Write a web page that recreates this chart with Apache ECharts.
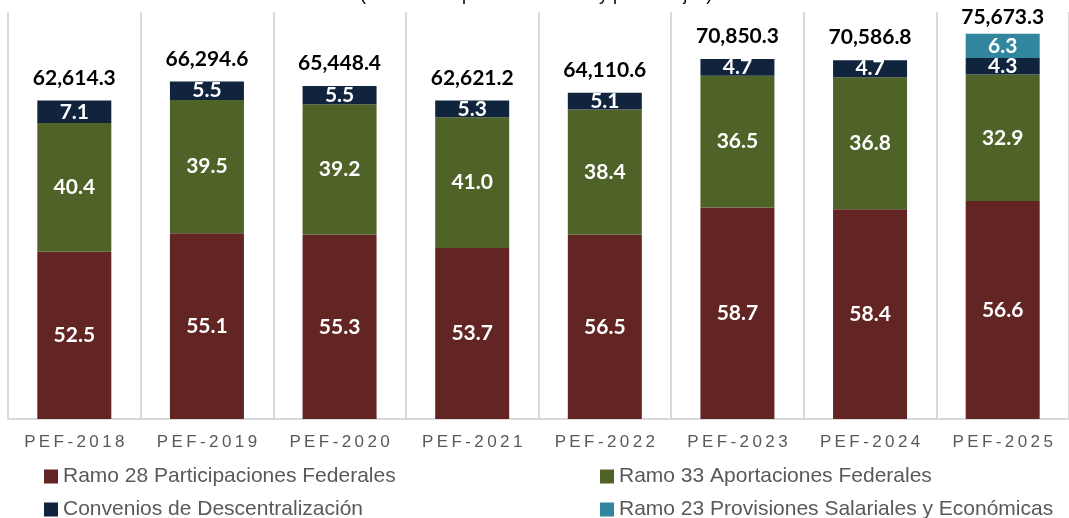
<!DOCTYPE html>
<html>
<head>
<meta charset="utf-8">
<script src="https://cdn.jsdelivr.net/npm/echarts@6/dist/echarts.min.js"></script>
<style>
  html, body { margin: 0; padding: 0; background: #fff; }
  #main { width: 1069px; height: 518px; }
</style>
</head>
<body>
<div id="main"></div>
<script>
// datos (porcentajes por ramo y totales en millones de pesos)
var categories = ['PEF-2018', 'PEF-2019', 'PEF-2020', 'PEF-2021', 'PEF-2022', 'PEF-2023', 'PEF-2024', 'PEF-2025']
var totals = [62614.3, 66294.6, 65448.4, 62621.2, 64110.6, 70850.3, 70586.8, 75673.3]
var ramo28 = [52.5, 55.1, 55.3, 53.7, 56.5, 58.7, 58.4, 56.6]
var ramo33 = [40.4, 39.5, 39.2, 41.0, 38.4, 36.5, 36.8, 32.9]
var convenios = [7.1, 5.5, 5.5, 5.3, 5.1, 4.7, 4.7, 4.3]
var ramo23 = [null, null, null, null, null, null, null, 6.3]

var names = ['Ramo 28 Participaciones Federales', 'Ramo 33 Aportaciones Federales',
  'Convenios de Descentralización', 'Ramo 23 Provisiones Salariales y Económicas']
var colors = ['#632523', '#4F6228', '#10243E', '#31859C']

var chart = echarts.init(document.getElementById('main'))

// altura de cada segmento = porcentaje * total
function amounts(pct) {
  return pct.map(function (p, i) {
    return p == null ? null : p * totals[i] / 100
  })
}

function segment(name, pct, color) {
  return {
    name: name,
    type: 'bar',
    stack: 'total',
    barWidth: 74,
    itemStyle: { color: color },
    label: {
      show: true,
      position: 'inside',
      color: '#fff',
      fontFamily: 'Lato',
      fontWeight: 'bold',
      fontSize: 21,
      formatter: function (p) {
        return pct[p.dataIndex].toFixed(1)
      }
    },
    data: amounts(pct)
  }
}

var legendText = { color: '#595959', fontSize: 21, fontFamily: 'Liberation Sans' }

function legendCol(left, data) {
  return {
    orient: 'vertical',
    left: left,
    top: 461,
    height: 80,
    itemWidth: 14,
    itemHeight: 14,
    itemGap: 12,
    icon: 'rect',
    textStyle: legendText,
    data: data
  }
}

var option = {
  animation: false,
  backgroundColor: '#fff',
  graphic: [{
    type: 'text',
    x: 360,
    y: 4,
    style: {
      text: '(Millones de pesos corrientes y porcentajes)',
      font: '18px "Liberation Sans"',
      fill: '#000',
      verticalAlign: 'bottom'
    }
  }],
  grid: { left: 8, right: -9, top: 12, bottom: 99 },
  legend: [
    legendCol(39, [names[0], names[2]]),
    legendCol(595, [names[1], names[3]])
  ],
  xAxis: {
    type: 'category',
    data: categories,
    axisLine: { lineStyle: { color: '#d9d9d9', width: 2 } },
    axisTick: { show: false },
    splitLine: { show: true, lineStyle: { color: '#d9d9d9', width: 2 } },
    axisLabel: {
      color: '#595959',
      fontSize: 17,
      fontFamily: 'Liberation Sans',
      margin: 15,
      formatter: function (v) { return v.split('').join('\u2009') }
    }
  },
  yAxis: {
    type: 'value',
    min: 0,
    max: 80000,
    show: false,
    splitLine: { show: false }
  },
  series: [
    segment(names[0], ramo28, colors[0]),
    segment(names[1], ramo33, colors[1]),
    segment(names[2], convenios, colors[2]),
    segment(names[3], ramo23, colors[3]),
    {
      name: 'Total',
      type: 'bar',
      barWidth: 74,
      barGap: '-100%',
      z: 1,
      itemStyle: { color: 'rgba(0,0,0,0)' },
      label: {
        show: true,
        position: 'top',
        distance: 12,
        color: '#000',
        fontFamily: 'Lato',
        fontWeight: 'bold',
        fontSize: 21,
        formatter: function (p) {
          return p.value.toLocaleString('en-US', { minimumFractionDigits: 1, maximumFractionDigits: 1 })
        }
      },
      data: totals.map(function (t, i) {
        // el ultimo total queda mas pegado a la barra
        return i == totals.length - 1 ? { value: t, label: { distance: 6 } } : t
      })
    }
  ]
}

chart.setOption(option)
</script>
</body>
</html>
